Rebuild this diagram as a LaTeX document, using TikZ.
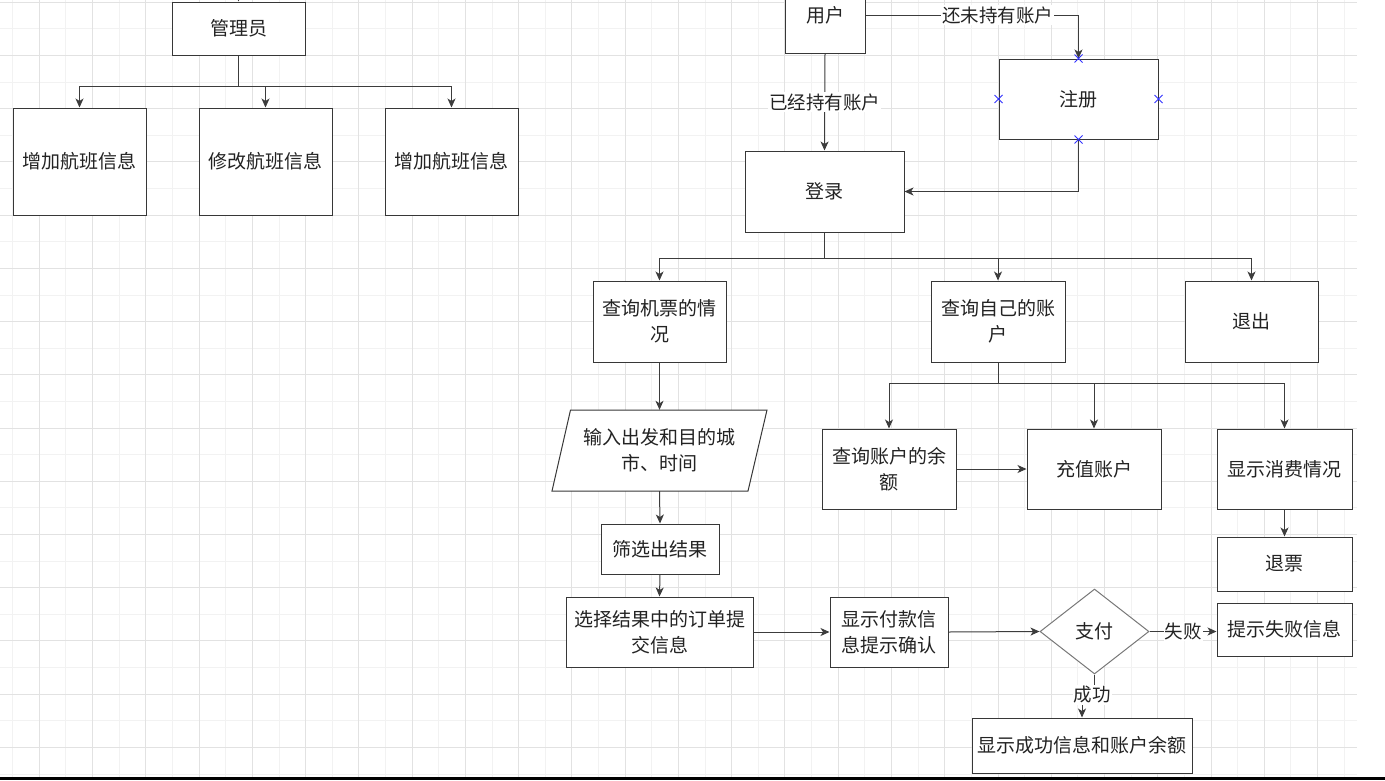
\documentclass[tikz,border=0pt]{standalone}
\usepackage{fontspec}
\newfontfamily\cjk{Noto Sans CJK SC}
\usetikzlibrary{arrows.meta,shapes.geometric,calc}
\definecolor{gridmin}{RGB}{242,242,242}
\definecolor{gridmaj}{RGB}{226,226,226}
\definecolor{edgec}{RGB}{60,60,60}
\definecolor{boxc}{RGB}{55,55,55}
\definecolor{txt}{RGB}{35,35,35}
\definecolor{dmc}{RGB}{120,120,120}
\definecolor{xblue}{RGB}{50,50,255}
\begin{document}
\begin{tikzpicture}[x=1pt,y=-1pt,
  box/.style={draw=boxc, line width=1pt, fill=white, inner sep=0pt, align=center, text=txt, font=\cjk\fontsize{19}{26}\selectfont},
  arr/.style={draw=edgec, line width=1pt, -{Stealth[length=9pt,width=8pt,inset=2.5pt]}},
  ln/.style={draw=edgec, line width=1pt},
  lbl/.style={fill=white, inner sep=1pt, text=txt, font=\cjk\fontsize{18.5}{24}\selectfont},
  xmark/.style={draw=xblue, line width=0.9pt},
]
\useasboundingbox (0,0) rectangle (1385,780);
\clip (0,0) rectangle (1385,780);
% grid
\begin{scope}
\clip (0,0) rectangle (1357,777);
\foreach \k in {0,2,...,50} \draw[gridmin, line width=1pt] ({12.7+26.63*\k},0) -- ({12.7+26.63*\k},777);
\foreach \k in {1,3,...,29} \draw[gridmin, line width=1pt] (0,{2.3+26.61*\k}) -- (1357,{2.3+26.61*\k});
\foreach \k in {1,3,...,49} \draw[gridmaj, line width=1pt] ({12.7+26.63*\k},0) -- ({12.7+26.63*\k},777);
\foreach \k in {0,2,...,28} \draw[gridmaj, line width=1pt] (0,{2.3+26.61*\k}) -- (1357,{2.3+26.61*\k});
\end{scope}
\fill[black] (0,777) rectangle (1385,780);

% administrator part
\node[box, minimum width=133, minimum height=53] (adm) at (238.5,28.5) {管理员};
\node[box, minimum width=133, minimum height=107] (a1) at (79.5,161.5) {增加航班信息};
\node[box, minimum width=133, minimum height=107] (a2) at (265.5,161.5) {修改航班信息};
\node[box, minimum width=133, minimum height=107] (a3) at (451.5,161.5) {增加航班信息};
\coordinate (atop) at (238.5,-40);
\coordinate (ja) at (238.5,86);
\draw[arr] (atop) -- (adm.north);
\draw[ln] (adm.south) -- (ja);
\draw[arr] (ja) -| (a1.north);
\draw[arr] (ja) -| (a2.north);
\draw[arr] (ja) -| (a3.north);

% user part
\node[box, minimum width=80, minimum height=76] (user) at (825,15) {用户};
\node[box, minimum width=159, minimum height=80] (reg) at (1078.5,99) {注册};
\node[box, minimum width=159, minimum height=81] (login) at (824.5,191.5) {登录};
\node[box, minimum width=133, minimum height=81] (q1) at (659.5,321.5) {查询机票的情\\况};
\node[box, minimum width=134, minimum height=81] (q2) at (998,321.5) {查询自己的账\\户};
\node[box, minimum width=133, minimum height=81] (q3) at (1251.5,321.5) {退出};

\coordinate (ic) at (659.5,450.5);
\filldraw[draw=boxc, fill=white, line width=1pt] ($(ic)+(-89,-40.5)$) -- ($(ic)+(107.5,-40.5)$) -- ($(ic)+(88.5,40.5)$) -- ($(ic)+(-107.5,40.5)$) -- cycle;
\node[inner sep=0pt, align=center, text=txt, font=\cjk\fontsize{19}{26}\selectfont, minimum width=196, minimum height=81] (inp) at (ic) {输入出发和目的城\\市、时间};

\node[box, minimum width=118, minimum height=50] (filt) at (660,549) {筛选出结果};
\node[box, minimum width=187, minimum height=70] (sel) at (659.5,632) {选择结果中的订单提\\交信息};
\node[box, minimum width=118, minimum height=70] (pay) at (889,632) {显示付款信\\息提示确认};
\node[diamond, draw=dmc, fill=white, line width=1pt, inner sep=0pt, minimum width=109, minimum height=85, text=txt, font=\cjk\fontsize{19}{26}\selectfont] (dia) at (1094.5,631.5) {支付};
\node[box, minimum width=135, minimum height=53] (fail) at (1284.5,629.5) {提示失败信息};
\node[box, minimum width=220, minimum height=55] (succ) at (1082,745.5) {显示成功信息和账户余额};

\node[box, minimum width=134, minimum height=80] (bal) at (889,469) {查询账户的余\\额};
\node[box, minimum width=134, minimum height=80] (chg) at (1094,469) {充值账户};
\node[box, minimum width=135, minimum height=80] (cons) at (1284.5,469) {显示消费情况};
\node[box, minimum width=135, minimum height=54] (ref) at (1284.5,564) {退票};

% connectors
\draw[arr] (user.east) -| (reg.north) node[lbl, pos=0.31] {还未持有账户};
\draw[arr] (user.south) -- node[lbl] {已经持有账户} (login.north);
\draw[arr] (reg.south) |- (login.east);

\coordinate (jl) at (824.5,258);
\draw[ln] (login.south) -- (jl);
\draw[arr] (jl) -| (q1.north);
\draw[arr] (jl) -| (q2.north);
\draw[arr] (jl) -| (q3.north);

\draw[arr] (q1.south) -- (inp.north);
\draw[arr] (inp.south) -- (filt.north);
\draw[arr] (filt.south) -- (sel.north);
\draw[arr] (sel.east) -- (pay.west);
\draw[arr] (pay.east) -- (dia.west);
\draw[arr] (dia.east) -- node[lbl] {失败} (dia.east -| fail.west);
\coordinate (jd) at (1094.5,696);
\draw[arr] (dia.south) -- (jd) -| (succ.north);
\node[lbl] (lsucc) at (1092,695) {成功};

\coordinate (jq) at (998,383);
\draw[ln] (q2.south) -- (jq);
\draw[arr] (jq) -| (bal.north);
\draw[arr] (jq) -| (chg.north);
\draw[arr] (jq) -| (cons.north);
\draw[arr] (bal.east) -- (chg.west);
\draw[arr] (cons.south) -- (ref.north);

% connection markers on 注册
\foreach \a in {north,south,east,west}
  \draw[xmark] ([shift={(-4,-4)}]reg.\a) -- ([shift={(4,4)}]reg.\a)
               ([shift={(-4,4)}]reg.\a) -- ([shift={(4,-4)}]reg.\a);
\end{tikzpicture}
\end{document}
